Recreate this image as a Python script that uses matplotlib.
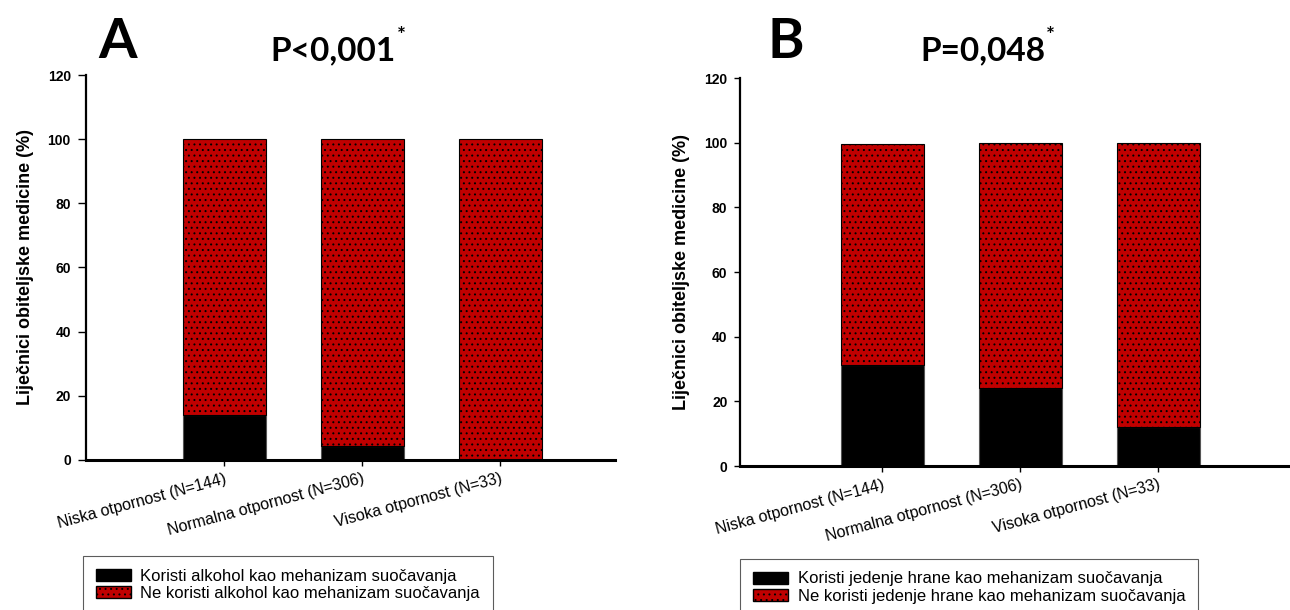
import numpy as np
import matplotlib.pyplot as plt
from matplotlib.patches import Patch

plt.rcParams['font.family'] = ['Liberation Sans', 'DejaVu Sans']
plt.rcParams['hatch.linewidth'] = 0.7
plt.rcParams['hatch.color'] = 'black'

groups = ['Niska otpornost (N=144)', 'Normalna otpornost (N=306)',
          'Visoka otpornost (N=33)']

# panel A: alcohol
alc_yes = [13.9, 4.2, 0.0]
alc_no = [86.1, 95.8, 100.0]

# panel B: eating
food_yes = [31.2, 24.0, 12.1]
food_no = [68.5, 76.0, 87.9]

RED = '#C00000'
W, H = 1290, 610


def panel(ax, yes, no, xlim, ytick_len):
    x = np.arange(len(groups))
    ax.bar(x, yes, width=0.6, color='black', edgecolor='#555555', linewidth=0.8)
    ax.bar(x, no, width=0.6, bottom=yes, color=RED, edgecolor='black',
           linewidth=0.8, hatch='...')
    ax.set_xlim(*xlim)
    ax.set_ylim(0, 120)
    ax.set_yticks(np.arange(0, 121, 20))
    ax.set_xticks(x)
    ax.set_xticklabels(groups, rotation=15, ha='right', rotation_mode='anchor',
                       fontsize=11.5)
    for s in ['top', 'right']:
        ax.spines[s].set_visible(False)
    ax.spines['left'].set_linewidth(1.6)
    ax.spines['bottom'].set_linewidth(2.2)
    ax.tick_params(axis='y', direction='out', length=ytick_len, width=1,
                   labelsize=10, pad=5)
    ax.tick_params(axis='x', direction='out', length=4, width=1, pad=4)
    for lab in ax.get_yticklabels():
        lab.set_fontweight('bold')
    ax.set_ylabel('Liječnici obiteljske medicine (%)', fontsize=13,
                  fontweight='bold', labelpad=10)


def heading(x_letter, letter, x_p, ptext):
    fig.text(x_letter / W, 1 - 58 / H, letter, fontsize=40, fontweight='bold',
             family='Lato', ha='left', va='baseline')
    t = fig.text(x_p / W, 1 - 60 / H, ptext, fontsize=24, fontweight='bold',
                 family='Lato', ha='left', va='baseline')
    fig.canvas.draw()
    bb = t.get_window_extent()
    fig.text(bb.x1 / W + 0.001, 1 - 42 / H, '*', fontsize=15,
             fontweight='bold', family='Lato', ha='left', va='baseline')


fig = plt.figure(figsize=(12.9, 6.1), dpi=100)

axA = fig.add_axes([0.0667, 0.246, 0.41, 0.631])
panel(axA, alc_yes, alc_no, (-1.0, 2.83), 6)

axB = fig.add_axes([0.5736, 0.236, 0.425, 0.636])
panel(axB, food_yes, food_no, (-1.03, 2.94), 4)

heading(98, 'A', 270, 'P<0,001')
heading(768, 'B', 920, 'P=0,048')

leg_kw = dict(loc='upper left', fontsize=12, frameon=True, fancybox=False,
              edgecolor='#333333', handlelength=2.1, handleheight=0.75,
              borderpad=0.75, labelspacing=0.15, handletextpad=0.6,
              borderaxespad=0)

handlesA = [Patch(facecolor='black', edgecolor='black'),
            Patch(facecolor=RED, edgecolor='black', hatch='...')]
legA = fig.legend(handlesA, ['Koristi alkohol kao mehanizam suočavanja',
                             'Ne koristi alkohol kao mehanizam suočavanja'],
                  bbox_to_anchor=(83 / W, 1 - 556 / H), **leg_kw)
legA.get_frame().set_linewidth(0.8)

handlesB = [Patch(facecolor='black', edgecolor='black'),
            Patch(facecolor=RED, edgecolor='black', hatch='...')]
legB = fig.legend(handlesB, ['Koristi jedenje hrane kao mehanizam suočavanja',
                             'Ne koristi jedenje hrane kao mehanizam suočavanja'],
                  bbox_to_anchor=(740 / W, 1 - 559 / H), **leg_kw)
legB.get_frame().set_linewidth(0.8)

fig.savefig('out.png', dpi=100, facecolor='white')
